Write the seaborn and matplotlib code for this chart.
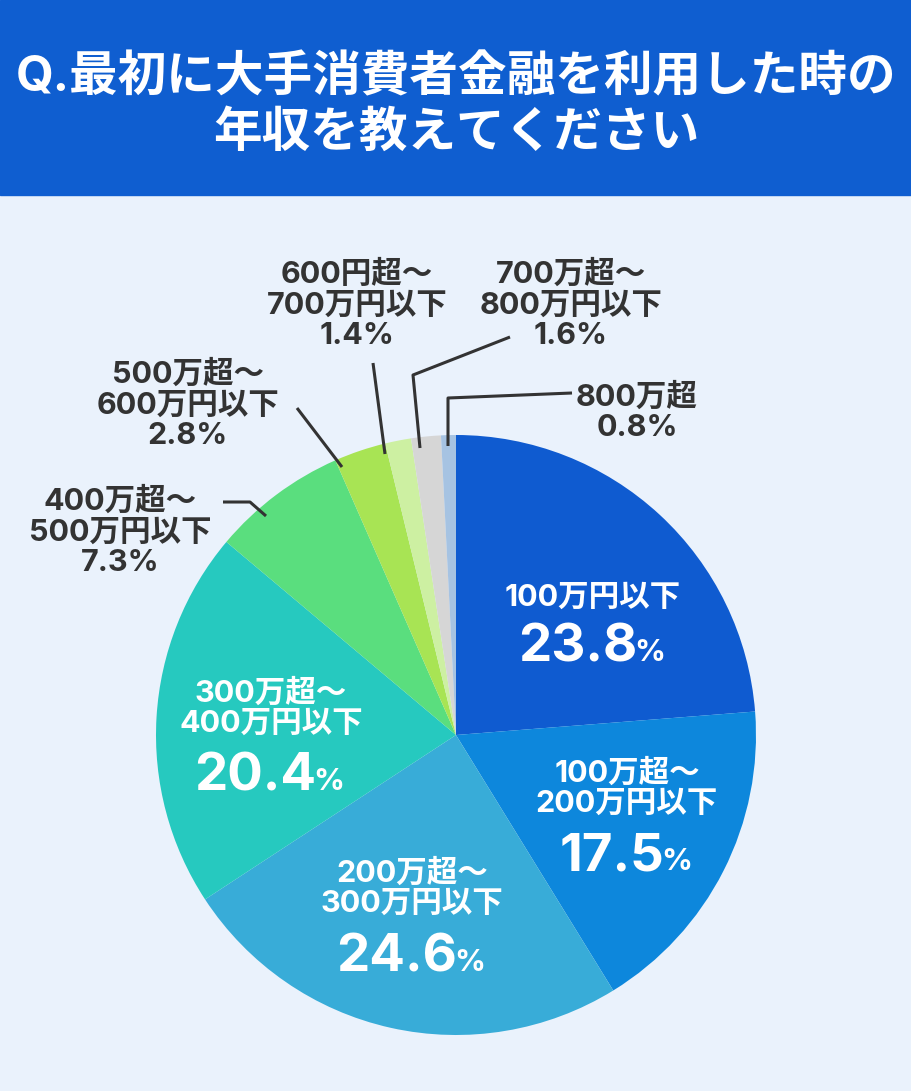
import numpy as np
import matplotlib
matplotlib.use('Agg')
import matplotlib.pyplot as plt
import seaborn as sns
from matplotlib.patches import Rectangle

sns.set_theme(style='white')
plt.rcParams['font.family'] = ['Inter', 'Noto Sans CJK JP', 'DejaVu Sans']

# データ
categories = ['100万円以下', '100万超～\n200万円以下', '200万超～\n300万円以下',
              '300万超～\n400万円以下', '400万超～\n500万円以下', '500万超～\n600万円以下',
              '600円超～\n700万円以下', '700万超～\n800万円以下', '800万超']
shares = [23.8, 17.5, 24.6, 20.4, 7.3, 2.8, 1.4, 1.6, 0.8]
colors = ['#0f5bd0', '#0d87dc', '#38acd8', '#26c9bf', '#5ade7e',
          '#a8e454', '#cdf0a2', '#d6d6d6', '#a6c3e2']

title_lines = ['Q.最初に大手消費者金融を利用した時の', '年収を教えてください']
bg = '#eaf2fc'
dark = '#333333'

W, H = 912, 1091
fig = plt.figure(figsize=(W / 100, H / 100), dpi=100)
fig.patch.set_facecolor(bg)

# 円グラフ (中心 456,735 半径 300)
cx, cy, r = 456, 735, 300
ax = fig.add_axes([(cx - r) / W, (H - cy - r) / H, 2 * r / W, 2 * r / H])
ax.pie(shares, colors=colors, startangle=90, counterclock=False, radius=1,
       wedgeprops=dict(linewidth=0))
ax.set_xlim(-1, 1)
ax.set_ylim(-1, 1)
ax.set_aspect('equal')
ax.axis('off')

# オーバーレイ (ピクセル座標)
ov = fig.add_axes([0, 0, 1, 1], zorder=5)
ov.set_xlim(0, W)
ov.set_ylim(H, 0)
ov.axis('off')
ov.patch.set_alpha(0)

ov.add_patch(Rectangle((0, 0), W, 195, color='#0f5ed0', zorder=1))
for line, y in zip(title_lines, [78, 134]):
    ov.text(456, y, line, color='white', fontsize=35, fontweight='bold',
            ha='center', va='center', zorder=2)

# 外側ラベル
outside = {
    6: (357, 305),
    7: (571, 305),
    8: (637, 412),
    5: (188, 405),
    4: (120, 532),
}
for i, (x, y) in outside.items():
    ov.text(x, y, f'{categories[i]}\n{shares[i]}%', color=dark, fontsize=22,
            fontweight='bold', ha='center', va='center', linespacing=1.12)

leaders = [
    [(448, 446), (448, 398), (572, 393)],
    [(420, 448), (413, 375), (510, 337)],
    [(385, 454), (373, 363)],
    [(342, 467), (297, 408)],
    [(266, 516), (250, 502), (223, 502)],
]
for pts in leaders:
    xs, ys = zip(*pts)
    ov.plot(xs, ys, color=dark, lw=2.2, solid_capstyle='butt')

# 内側ラベル
inside = {
    0: (593, 598, 648),
    1: (627, 788, 857),
    2: (412, 888, 958),
    3: (271, 708, 777),
}
fig.canvas.draw()
renderer = fig.canvas.get_renderer()
for i, (x, yl, yp) in inside.items():
    ov.text(x, yl, categories[i], color='white', fontsize=22, fontweight='bold',
            ha='center', va='center', linespacing=1.12)
    num = ov.text(0, yp, f'{shares[i]}', color='white', fontsize=38,
                  fontweight='bold', ha='left', va='center')
    pct = ov.text(0, yp + 5, '%', color='white', fontsize=22,
                  fontweight='bold', ha='left', va='center')
    wn = num.get_window_extent(renderer).width
    wp = pct.get_window_extent(renderer).width
    left = x - (wn + wp) / 2
    num.set_x(left)
    pct.set_x(left + wn - 3)

fig.savefig('out.png', dpi=100, facecolor=bg)
